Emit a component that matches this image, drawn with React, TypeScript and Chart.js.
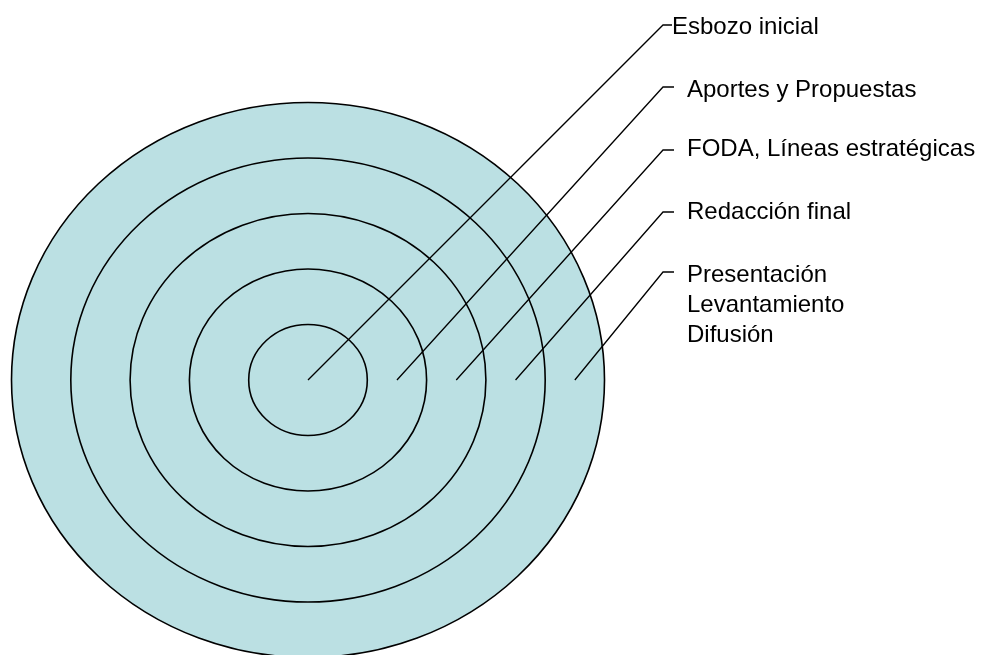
import React, { useEffect, useRef } from "react";
import { Chart, registerables } from "chart.js";

Chart.register(...registerables);

// ---- data ----
const STAGE_LABELS: string[][] = [
  ["Esbozo inicial"],
  ["Aportes y Propuestas"],
  ["FODA, Líneas estratégicas"],
  ["Redacción final"],
  ["Presentación", "Levantamiento", "Difusión"],
];
// ring outer radii (in ring units), innermost to outermost
const RING_RADII: number[] = [1, 2, 3, 4, 5];
// where each leader line starts (ring units from the centre): centre of ring 1, mid of the others
const LEADER_START: number[] = [0, 1.5, 2.5, 3.5, 4.5];

// ---- layout (pixels) ----
const W = 983;
const H = 655;
const CX = 308;
const CY = 380;
const UNIT_X = 59.3;
const UNIT_Y = 55.5;
const ELBOW_X = 663;
const HOOK_END_X = [672, 674, 674, 674, 674];
const ELBOW_Y = [25, 87, 150, 212, 272];
const TEXT_X = [672, 687, 687, 687, 687];
const TEXT_BASE = [34, 97, 156, 219, 282];
const LINE_GAP = 30;
const FILL = "#BBE0E3";
const FONT = "24px 'Liberation Sans', Arial, sans-serif";

const toX = (px: number) => (px - CX) / UNIT_X;
const toY = (py: number) => (CY - py) / UNIT_Y;

export default function App() {
  const ref = useRef<HTMLCanvasElement | null>(null);

  useEffect(() => {
    if (!ref.current) return;

    const datasets = LEADER_START.map((s, i) => ({
      label: STAGE_LABELS[i].join(" "),
      data: [
        { x: s, y: 0 },
        { x: toX(ELBOW_X), y: toY(ELBOW_Y[i]) },
        { x: toX(HOOK_END_X[i]), y: toY(ELBOW_Y[i]) },
      ],
      showLine: true,
      borderColor: "#000",
      borderWidth: 1.3,
      pointRadius: 0,
      tension: 0,
      clip: false as any,
    }));

    const ringsPlugin = {
      id: "rings",
      beforeDatasetsDraw(chart: any) {
        const { ctx, scales } = chart;
        const xs = scales.x;
        const ys = scales.y;
        const cx = xs.getPixelForValue(0);
        const cy = ys.getPixelForValue(0);
        ctx.save();
        const radii = [...RING_RADII].sort((a, b) => b - a);
        const R = radii[0];
        ctx.beginPath();
        ctx.ellipse(cx, cy, xs.getPixelForValue(R) - cx, cy - ys.getPixelForValue(R), 0, 0, Math.PI * 2);
        ctx.fillStyle = FILL;
        ctx.fill();
        ctx.strokeStyle = "#000";
        ctx.lineWidth = 1.6;
        radii.forEach((r) => {
          ctx.beginPath();
          ctx.ellipse(cx, cy, xs.getPixelForValue(r) - cx, cy - ys.getPixelForValue(r), 0, 0, Math.PI * 2);
          ctx.stroke();
        });
        ctx.restore();
      },
      afterDatasetsDraw(chart: any) {
        const { ctx } = chart;
        ctx.save();
        ctx.font = FONT;
        ctx.fillStyle = "#000";
        ctx.textBaseline = "alphabetic";
        ctx.textAlign = "left";
        STAGE_LABELS.forEach((lines, i) => {
          lines.forEach((t, j) => {
            ctx.fillText(t, TEXT_X[i], TEXT_BASE[i] + j * LINE_GAP);
          });
        });
        ctx.restore();
      },
    };

    const chart = new Chart(ref.current, {
      type: "scatter",
      data: { datasets },
      options: {
        animation: false,
        responsive: false,
        layout: { padding: 0 },
        plugins: {
          legend: { display: false },
          tooltip: { enabled: false },
          title: { display: false },
        },
        scales: {
          x: { type: "linear", display: false, min: toX(0), max: toX(W) },
          y: { type: "linear", display: false, min: toY(H), max: toY(0) },
        },
      },
      plugins: [ringsPlugin],
    } as any);

    return () => chart.destroy();
  }, []);

  return (
    <div style={{ position: "absolute", left: 0, top: 0, width: W, height: H, overflow: "hidden", background: "#fff" }}>
      <canvas ref={ref} width={W} height={H} style={{ display: "block" }} />
    </div>
  );
}
